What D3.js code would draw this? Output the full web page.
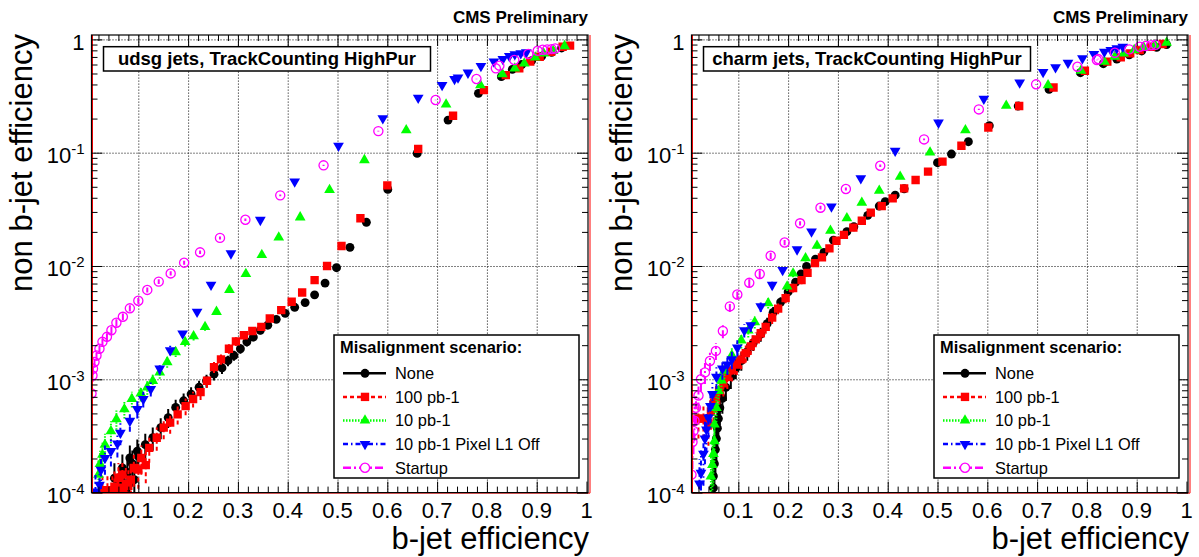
<!DOCTYPE html>
<html>
<head>
<meta charset="utf-8">
<script src="https://cdn.jsdelivr.net/npm/d3@7"></script>
<style>
body { margin: 0; background: #fff; }
text { font-family: "Liberation Sans", Arial, Helvetica, sans-serif; fill: #000; }
</style>
</head>
<body>
<script>
// ---- data: [b-jet efficiency, non b-jet efficiency] ----
const scenarios = ["None", "100 pb-1", "10 pb-1", "10 pb-1 Pixel L1 Off", "Startup"];

const udsgNone = [
  [0.052,1.34e-4],[0.062,1.2e-4],[0.068,1.65e-4],[0.072,1.2e-4],[0.078,1.5e-4],[0.082,1.2e-4],
  [0.083,2.02e-4],[0.088,1.8e-4],[0.092,1.3e-4],[0.098,2.32e-4],[0.1,2.1e-4],[0.114,2.65e-4],
  [0.129,3.05e-4],[0.145,3.74e-4],[0.16,4.59e-4],[0.175,5.64e-4],[0.191,6.46e-4],[0.206,7.4e-4],
  [0.222,8.5e-4],[0.237,9.7e-4],[0.252,1.11e-3],[0.268,1.26e-3],[0.28,1.46e-3],[0.292,1.62e-3],
  [0.305,1.86e-3],[0.318,2.14e-3],[0.331,2.36e-3],[0.345,2.71e-3],[0.36,3.0e-3],[0.377,3.38e-3],
  [0.395,3.82e-3],[0.414,4.32e-3],[0.435,4.75e-3],[0.454,5.56e-3],[0.475,7.06e-3],[0.498,9.66e-3],
  [0.525,1.46e-2],[0.558,2.43e-2],[0.601,4.74e-2],[0.66,9.86e-2],[0.722,0.194],[0.783,0.334],
  [0.829,0.469],[0.851,0.543],[0.87,0.6],[0.89,0.65],[0.91,0.71],[0.93,0.77],[0.95,0.84]
];
const udsg100 = [
  [0.028,1.05e-4],[0.038,1.05e-4],[0.048,1.05e-4],[0.052,1.13e-4],[0.058,1.1e-4],[0.06,1.35e-4],
  [0.068,1.44e-4],[0.07,1.1e-4],[0.075,1.2e-4],[0.08,1.15e-4],[0.085,1.3e-4],[0.091,1.65e-4],
  [0.1,1.6e-4],[0.106,2.02e-4],[0.115,1.75e-4],[0.122,2.48e-4],[0.137,3.05e-4],[0.151,3.74e-4],
  [0.164,4.14e-4],[0.179,4.9e-4],[0.195,5.8e-4],[0.21,6.7e-4],[0.225,7.7e-4],[0.238,9.7e-4],
  [0.252,1.28e-3],[0.266,1.5e-3],[0.282,1.86e-3],[0.296,2.16e-3],[0.312,2.45e-3],[0.329,2.67e-3],
  [0.347,2.9e-3],[0.364,3.44e-3],[0.387,4.08e-3],[0.408,4.84e-3],[0.429,5.83e-3],[0.454,7.5e-3],
  [0.479,1.0e-2],[0.508,1.5e-2],[0.546,2.64e-2],[0.6,5.15e-2],[0.662,0.108],[0.732,0.212],
  [0.794,0.357],[0.838,0.484],[0.865,0.555],[0.887,0.636],[0.906,0.703],[0.929,0.778],
  [0.952,0.861],[0.967,0.88]
];
const udsg10 = [
  [0.02,1.44e-4],[0.023,1.79e-4],[0.028,2.16e-4],[0.033,2.65e-4],[0.045,3.49e-4],[0.056,4.44e-4],
  [0.072,5.45e-4],[0.087,6.7e-4],[0.105,7.5e-4],[0.118,8.5e-4],[0.129,9.7e-4],[0.143,1.15e-3],
  [0.158,1.42e-3],[0.175,1.74e-3],[0.194,2.14e-3],[0.211,2.4e-3],[0.234,2.9e-3],[0.257,3.94e-3],
  [0.283,6.15e-3],[0.316,8.5e-3],[0.348,1.25e-2],[0.382,1.79e-2],[0.425,2.69e-2],[0.484,4.69e-2],
  [0.554,8.61e-2],[0.638,0.158],[0.718,0.267],[0.787,0.395],[0.831,0.494],[0.856,0.555],
  [0.875,0.614],[0.897,0.693],[0.914,0.752],[0.933,0.79],[0.956,0.873]
];
const udsgPixOff = [
  [0.014,1.02e-4],[0.022,1.17e-4],[0.025,1.59e-4],[0.033,2.02e-4],[0.045,2.32e-4],[0.058,2.71e-4],
  [0.064,3.37e-4],[0.083,4.29e-4],[0.098,5.45e-4],[0.11,6.7e-4],[0.125,8.2e-4],[0.143,1.24e-3],
  [0.164,1.8e-3],[0.189,2.53e-3],[0.218,3.94e-3],[0.246,6.82e-3],[0.286,1.29e-2],[0.345,2.55e-2],
  [0.414,5.55e-2],[0.502,0.115],[0.591,0.201],[0.662,0.305],[0.71,0.395],[0.735,0.447],
  [0.742,0.46],[0.762,0.508],[0.788,0.582],[0.814,0.636],[0.832,0.67],[0.845,0.713],
  [0.856,0.738],[0.868,0.752],[0.879,0.767]
];
const udsgStartup = [
  [0.006,7.5e-4],[0.008,1.08e-3],[0.009,1.24e-3],[0.012,1.42e-3],[0.016,1.62e-3],[0.022,1.86e-3],
  [0.028,2.14e-3],[0.037,2.37e-3],[0.046,2.71e-3],[0.056,3.16e-3],[0.069,3.56e-3],[0.083,4.23e-3],
  [0.1,4.94e-3],[0.118,6.15e-3],[0.141,7.28e-3],[0.165,8.6e-3],[0.192,1.07e-2],[0.224,1.32e-2],
  [0.264,1.77e-2],[0.315,2.56e-2],[0.385,4.2e-2],[0.472,7.73e-2],[0.582,0.155],[0.697,0.292],
  [0.779,0.447],[0.818,0.555],[0.825,0.586],[0.855,0.657],[0.883,0.743],[0.902,0.794],
  [0.912,0.81],[0.921,0.815],[0.93,0.82],[0.937,0.83]
];

const charmNone = [
  [0.05,1.1e-4],[0.05,1.4e-4],[0.052,1.8e-4],[0.054,2.4e-4],[0.056,3.0e-4],[0.058,3.7e-4],
  [0.06,4.5e-4],[0.063,5.6e-4],[0.068,6.8e-4],[0.075,8.5e-4],[0.085,1.05e-3],[0.095,1.25e-3],
  [0.106,1.46e-3],[0.118,1.75e-3],[0.13,2.1e-3],[0.145,2.5e-3],[0.158,3.1e-3],[0.17,3.9e-3],
  [0.185,4.8e-3],[0.2,5.9e-3],[0.215,7.2e-3],[0.226,8.5e-3],[0.237,9.9e-3],[0.255,1.15e-2],
  [0.272,1.32e-2],[0.291,1.69e-2],[0.318,2.01e-2],[0.332,2.22e-2],[0.36,2.8e-2],[0.383,3.38e-2],
  [0.395,3.7e-2],[0.415,4.22e-2],[0.433,4.8e-2],[0.5,8.16e-2],[0.528,9.73e-2],[0.562,0.125],
  [0.604,0.173],[0.662,0.258],[0.724,0.362],[0.787,0.508],[0.833,0.61],[0.86,0.67],
  [0.885,0.73],[0.91,0.79],[0.94,0.85],[0.96,0.9]
];
const charm100 = [
  [0.02,4.5e-4],[0.03,4.5e-4],[0.04,4.0e-4],[0.045,5.2e-4],[0.05,6.0e-4],[0.055,7.0e-4],
  [0.062,8.0e-4],[0.07,9.2e-4],[0.078,1.05e-3],[0.087,1.2e-3],[0.097,1.35e-3],[0.106,1.5e-3],
  [0.115,1.7e-3],[0.125,1.95e-3],[0.135,2.25e-3],[0.145,2.55e-3],[0.155,2.9e-3],[0.168,3.5e-3],
  [0.18,4.2e-3],[0.195,5.2e-3],[0.21,6.4e-3],[0.227,7.5e-3],[0.239,8.7e-3],[0.254,1.06e-2],
  [0.268,1.19e-2],[0.283,1.43e-2],[0.297,1.67e-2],[0.312,1.88e-2],[0.331,2.18e-2],[0.348,2.51e-2],
  [0.366,2.96e-2],[0.388,3.38e-2],[0.41,3.95e-2],[0.433,4.84e-2],[0.456,5.74e-2],[0.481,6.8e-2],
  [0.51,8.33e-2],[0.548,0.115],[0.602,0.167],[0.664,0.258],[0.733,0.376],[0.796,0.529],
  [0.841,0.636],[0.868,0.693],[0.887,0.752],[0.906,0.805],[0.929,0.861],[0.952,0.91]
];
const charm10 = [
  [0.045,1.39e-4],[0.048,1.76e-4],[0.05,2.2e-4],[0.052,2.84e-4],[0.052,4.0e-4],[0.056,5.6e-4],
  [0.06,7.9e-4],[0.066,9.8e-4],[0.072,1.19e-3],[0.087,1.63e-3],[0.106,2.2e-3],[0.12,2.7e-3],
  [0.133,3.2e-3],[0.16,4.7e-3],[0.198,6.6e-3],[0.21,8.6e-3],[0.235,1.17e-2],[0.258,1.51e-2],
  [0.285,2.05e-2],[0.318,2.64e-2],[0.348,3.62e-2],[0.383,4.62e-2],[0.425,6.14e-2],[0.485,0.1007],
  [0.556,0.158],[0.638,0.26],[0.722,0.395],[0.788,0.529],[0.835,0.636],[0.856,0.703],
  [0.874,0.752],[0.895,0.805],[0.914,0.85],[0.937,0.891],[0.96,0.935]
];
const charmPixOff = [
  [0.022,1.2e-4],[0.025,1.49e-4],[0.03,2.2e-4],[0.033,3.0e-4],[0.036,3.6e-4],[0.04,4.6e-4],
  [0.044,5.8e-4],[0.048,7.4e-4],[0.056,1.05e-3],[0.068,1.24e-3],[0.078,1.35e-3],[0.087,1.5e-3],
  [0.098,1.9e-3],[0.112,2.7e-3],[0.125,3.0e-3],[0.145,4.4e-3],[0.168,6.8e-3],[0.189,9.22e-3],
  [0.218,1.4e-2],[0.247,2.01e-2],[0.287,3.34e-2],[0.346,5.94e-2],[0.415,0.104],[0.502,0.184],
  [0.593,0.299],[0.665,0.415],[0.712,0.515],[0.737,0.566],[0.762,0.622],[0.791,0.68],
  [0.814,0.743],[0.835,0.778],[0.848,0.805],[0.86,0.834],[0.872,0.861]
];
const charmStartup = [
  [0.006,1.44e-4],[0.008,2.8e-4],[0.01,3.5e-4],[0.012,4.3e-4],[0.015,5.6e-4],[0.02,7.2e-4],
  [0.025,1.0e-3],[0.033,1.15e-3],[0.043,1.45e-3],[0.055,1.78e-3],[0.069,2.67e-3],[0.083,4.4e-3],
  [0.098,5.6e-3],[0.122,7.1e-3],[0.143,8.5e-3],[0.165,1.23e-2],[0.193,1.61e-2],[0.224,2.38e-2],
  [0.265,3.27e-2],[0.316,4.78e-2],[0.385,7.67e-2],[0.473,0.131],[0.583,0.241],[0.698,0.401],
  [0.781,0.574],[0.82,0.657],[0.823,0.67],[0.856,0.762],[0.885,0.816],[0.906,0.861],
  [0.918,0.875],[0.929,0.888],[0.938,0.895]
];

// number of light jets behind each curve (sets the binomial error bars)
const udsgJets = 60000;
const charmJets = 20000;

const xTicks = [0.1, 0.2, 0.3, 0.4, 0.5, 0.6, 0.7, 0.8, 0.9, 1];
const yTicks = [1e-4, 1e-3, 1e-2, 1e-1, 1];

// ---- layout ----
const svg = d3.select("body").append("svg").attr("width", 1199).attr("height", 557);

const frame = { left: 91.5, top: 35, w: 496.5, h: 457.6 };

const x = d3.scaleLinear().domain([0.006, 1.003]).range([0, frame.w]);
const y = d3.scaleLog().domain([1e-4, 1.093]).range([frame.h, 0]);

const styles = [
  { color: "#000000", dash: null,        type: d3.symbolCircle,   size: 62, rot: 0,   open: false },
  { color: "#ff0000", dash: "4,3",       type: d3.symbolSquare,   size: 70, rot: 0,   open: false },
  { color: "#00ff00", dash: "1.5,1.5",   type: d3.symbolTriangle, size: 50, rot: 0,   open: false },
  { color: "#0000ff", dash: "5,3,1.5,3", type: d3.symbolTriangle, size: 50, rot: 180, open: false },
  { color: "#ff00ff", dash: "8,3,2,3",   type: d3.symbolCircle,   size: 66, rot: 0,   open: true }
];

const panels = [
  { ox: 0,   title: "udsg jets, TrackCounting HighPur",
    series: [udsgNone, udsg100, udsg10, udsgPixOff, udsgStartup], nJets: udsgJets },
  { ox: 600, title: "charm jets, TrackCounting HighPur",
    series: [charmNone, charm100, charm10, charmPixOff, charmStartup], nJets: charmJets }
];

const defs = svg.append("defs");

panels.forEach((p, pi) => {
  const g = svg.append("g").attr("transform", "translate(" + (p.ox + frame.left) + "," + frame.top + ")");

  defs.append("clipPath").attr("id", "clip" + pi)
    .append("rect").attr("width", frame.w).attr("height", frame.h);

  // dotted grid
  g.append("g")
    .attr("transform", "translate(0," + frame.h + ")")
    .call(d3.axisBottom(x).tickValues(xTicks.filter(v => v < 1)).tickSize(-frame.h).tickFormat(""))
    .call(a => a.select(".domain").remove())
    .selectAll("line").attr("stroke", "#000").attr("stroke-dasharray", "1,2");
  g.append("g")
    .call(d3.axisLeft(y).tickValues(yTicks.filter(v => v > 1e-4)).tickSize(-frame.w).tickFormat(""))
    .call(a => a.select(".domain").remove())
    .selectAll("line").attr("stroke", "#000").attr("stroke-dasharray", "1,2");

  // data
  const plot = g.append("g").attr("clip-path", "url(#clip" + pi + ")");
  p.series.forEach((data, si) => {
    const st = styles[si];
    const sg = plot.append("g");
    sg.selectAll("line").data(data).join("line")
      .attr("x1", d => x(d[0])).attr("x2", d => x(d[0]))
      .attr("y1", d => y(Math.max(d[1] - Math.sqrt(d[1] * (1 - d[1]) / p.nJets), 1e-6)))
      .attr("y2", d => y(d[1] + Math.sqrt(d[1] * (1 - d[1]) / p.nJets)))
      .attr("stroke", st.color).attr("stroke-width", 2)
      .attr("stroke-dasharray", st.dash);
    sg.selectAll("path").data(data).join("path")
      .attr("transform", d => "translate(" + x(d[0]) + "," + y(d[1]) + ") rotate(" + st.rot + ")")
      .attr("d", d3.symbol().type(st.type).size(st.size))
      .attr("fill", st.open ? "none" : st.color)
      .attr("stroke", st.open ? st.color : "none")
      .attr("stroke-width", 1.3);
  });

  // red outline hugging the frame
  g.append("path")
    .attr("d", "M1,0V" + (frame.h + 0.5) + "H" + (frame.w + 2) + "V0")
    .attr("fill", "none").attr("stroke", "#ff0000").attr("stroke-width", 1);

  // frame
  g.append("rect").attr("width", frame.w).attr("height", frame.h)
    .attr("fill", "none").attr("stroke", "#000").attr("stroke-width", 1.2);

  // ticks on all four sides
  const xMinor = d3.range(0.02, 1.001, 0.02).filter(v => xTicks.every(t => Math.abs(t - v) > 1e-6));
  const yMinor = [];
  [-4, -3, -2, -1].forEach(e => d3.range(2, 10).forEach(k => yMinor.push(k * Math.pow(10, e))));
  const tickAxis = (axis, scale, vals, len, tr) => {
    g.append("g").attr("transform", tr || null)
      .call(axis(scale).tickValues(vals).tickSize(-len).tickFormat(""))
      .call(a => a.select(".domain").remove())
      .selectAll("line").attr("stroke", "#000");
  };
  tickAxis(d3.axisBottom, x, xTicks, 11, "translate(0," + frame.h + ")");
  tickAxis(d3.axisBottom, x, xMinor, 6, "translate(0," + frame.h + ")");
  tickAxis(d3.axisTop, x, xTicks, 11);
  tickAxis(d3.axisTop, x, xMinor, 6);
  tickAxis(d3.axisLeft, y, yTicks, 11);
  tickAxis(d3.axisLeft, y, yMinor, 6);
  tickAxis(d3.axisRight, y, yTicks, 11, "translate(" + frame.w + ",0)");
  tickAxis(d3.axisRight, y, yMinor, 6, "translate(" + frame.w + ",0)");

  // tick labels
  g.append("g").selectAll("text").data(xTicks).join("text")
    .attr("x", d => x(d)).attr("y", frame.h + 25)
    .attr("text-anchor", "middle").attr("font-size", 22)
    .text(d => d === 1 ? "1" : d3.format(".1f")(d));

  g.append("g").selectAll("text").data(yTicks).join("text")
    .attr("x", -7).attr("y", d => y(d) + 10.5)
    .attr("text-anchor", "end").attr("font-size", 22)
    .each(function (d) {
      const t = d3.select(this);
      const e = Math.round(Math.log10(d));
      if (e === 0) { t.text("1"); return; }
      t.append("tspan").text("10");
      t.append("tspan").attr("dy", -9).attr("font-size", 15).text("-" + Math.abs(e));
    });

  // axis titles
  svg.append("text")
    .attr("x", p.ox + 589).attr("y", 549)
    .attr("text-anchor", "end").attr("font-size", 31)
    .text("b-jet efficiency");
  svg.append("text")
    .attr("transform", "translate(" + (p.ox + 32) + ",34) rotate(-90)")
    .attr("text-anchor", "end").attr("font-size", 31)
    .text("non b-jet efficiency");

  // CMS label
  svg.append("text")
    .attr("x", p.ox + 588).attr("y", 23)
    .attr("text-anchor", "end").attr("font-size", 17).attr("font-weight", "bold")
    .text("CMS Preliminary");

  // title box
  svg.append("rect")
    .attr("x", p.ox + 103.5).attr("y", 46.7).attr("width", 327).attr("height", 24.3)
    .attr("fill", "#fff").attr("stroke", "#000").attr("stroke-width", 1.5);
  svg.append("text")
    .attr("x", p.ox + 267).attr("y", 65)
    .attr("text-anchor", "middle").attr("font-size", 18.5).attr("font-weight", "bold")
    .text(p.title);

  // legend
  const lg = svg.append("g").attr("transform", "translate(" + (p.ox + 334) + ",335)");
  lg.append("rect").attr("width", 245).attr("height", 143)
    .attr("fill", "#fff").attr("stroke", "#000").attr("stroke-width", 1.5);
  lg.append("text").attr("x", 6).attr("y", 18)
    .attr("font-size", 16.4).attr("font-weight", "bold")
    .text("Misalignment scenario:");
  scenarios.forEach((name, si) => {
    const st = styles[si];
    const ry = 38.3 + si * 23.6;
    lg.append("line").attr("x1", 9).attr("x2", 52).attr("y1", ry).attr("y2", ry)
      .attr("stroke", st.color).attr("stroke-width", 2.5).attr("stroke-dasharray", st.dash);
    lg.append("path")
      .attr("transform", "translate(31," + ry + ") rotate(" + st.rot + ")")
      .attr("d", d3.symbol().type(st.type).size(st.size))
      .attr("fill", st.open ? "#fff" : st.color)
      .attr("stroke", st.open ? st.color : "none").attr("stroke-width", 1.3);
    lg.append("text").attr("x", 61).attr("y", ry + 5.8)
      .attr("font-size", 16.4).text(name);
  });
});
</script>
</body>
</html>
